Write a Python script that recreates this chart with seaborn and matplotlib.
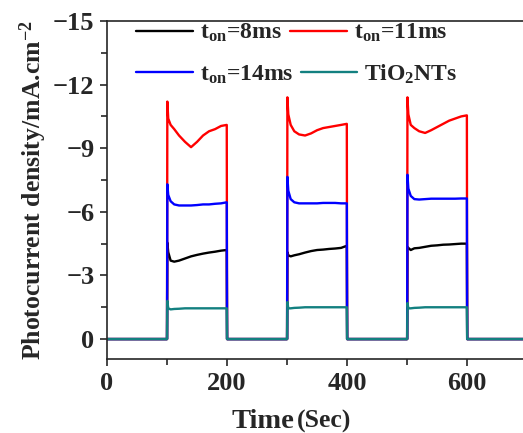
import numpy as np
import pandas as pd
import matplotlib
matplotlib.use("Agg")
import matplotlib.pyplot as plt
import seaborn as sns

# ---- data ----
time = [0, 100,
        100.5, 102, 106, 112, 120, 130, 140, 150, 160, 170, 180, 190, 199.5, 200,
        300,
        300.5, 302, 306, 312, 320, 330, 340, 350, 360, 370, 380, 390, 399.5, 400,
        500,
        500.5, 502, 506, 512, 520, 530, 540, 550, 560, 570, 580, 590, 599.5, 600,
        700]

ton8 = [0, 0,
        -4.55, -4.1, -3.7, -3.65, -3.7, -3.8, -3.9, -3.97, -4.03, -4.08, -4.12, -4.17, -4.2, 0,
        0,
        -4.1, -3.95, -3.9, -3.95, -4.0, -4.08, -4.15, -4.2, -4.22, -4.25, -4.27, -4.3, -4.4, 0,
        0,
        -4.35, -4.3, -4.2, -4.28, -4.3, -4.35, -4.4, -4.42, -4.45, -4.46, -4.48, -4.5, -4.5, 0,
        0]

ton11 = [0, 0,
         -11.2, -10.4, -10.1, -9.9, -9.6, -9.3, -9.05, -9.3, -9.6, -9.8, -9.9, -10.05, -10.1, 0,
         0,
         -11.4, -10.6, -10.1, -9.8, -9.65, -9.6, -9.7, -9.85, -9.95, -10.0, -10.05, -10.1, -10.15, 0,
         0,
         -11.4, -10.6, -10.1, -9.95, -9.8, -9.72, -9.85, -10.0, -10.15, -10.3, -10.4, -10.5, -10.55, 0,
         0]

ton14 = [0, 0,
         -7.3, -6.8, -6.5, -6.35, -6.3, -6.3, -6.3, -6.32, -6.35, -6.35, -6.38, -6.4, -6.45, 0,
         0,
         -7.65, -7.0, -6.6, -6.45, -6.4, -6.4, -6.4, -6.4, -6.42, -6.42, -6.42, -6.4, -6.4, 0,
         0,
         -7.75, -7.1, -6.75, -6.6, -6.58, -6.6, -6.62, -6.62, -6.62, -6.62, -6.62, -6.63, -6.63, 0,
         0]

tio2 = [0, 0,
        -1.8, -1.45, -1.4, -1.42, -1.43, -1.45, -1.45, -1.45, -1.45, -1.45, -1.45, -1.45, -1.45, 0,
        0,
        -1.75, -1.45, -1.45, -1.47, -1.48, -1.5, -1.5, -1.5, -1.5, -1.5, -1.5, -1.5, -1.5, 0,
        0,
        -1.7, -1.45, -1.45, -1.47, -1.48, -1.5, -1.5, -1.5, -1.5, -1.5, -1.5, -1.5, -1.5, 0,
        0]

labels = [r'$\mathbf{t}_{\mathbf{on}}$=8ms', r'$\mathbf{t}_{\mathbf{on}}$=11ms',
          r'$\mathbf{t}_{\mathbf{on}}$=14ms', r'TiO$_{\mathbf{2}}$NTs']
colors = ['#000000', '#ff0000', '#0000ff', '#138080']
xticks = [0, 200, 400, 600]
yticks = [-15, -12, -9, -6, -3, 0]

# ---- style ----
sns.set_style("ticks")
plt.rcParams['font.family'] = ['Liberation Serif', 'DejaVu Serif']
plt.rcParams['font.weight'] = 'bold'
plt.rcParams['mathtext.fontset'] = 'custom'
plt.rcParams['mathtext.rm'] = 'Liberation Serif:bold'
plt.rcParams['mathtext.bf'] = 'Liberation Serif:bold'
plt.rcParams['mathtext.it'] = 'Liberation Serif:bold'
plt.rcParams['axes.unicode_minus'] = True

fig = plt.figure(figsize=(5.23, 4.33), dpi=100)
ax = fig.add_axes([107/523, 1 - 359/433, 1 - 107/523, (359 - 21)/433])

series = [ton8, ton11, ton14, tio2]
handles = []
for vals, lab, col in zip(series, labels, colors):
    df = pd.DataFrame({'Time': time, 'J': vals})
    sns.lineplot(data=df, x='Time', y='J', color=col, lw=1.7, ax=ax,
                 estimator=None, sort=False, label=lab, legend=False)
    handles.append(ax.lines[-1])

ax.set_xlim(0, 693)
ax.set_ylim(0.94, -15)
ax.set_xticks(xticks)
ax.set_xticks([100, 300, 500], minor=True)
ax.set_yticks(yticks)
ax.set_yticks([-13.5, -10.5, -7.5, -4.5, -1.5], minor=True)
ax.set_xticklabels([str(v) for v in xticks])
ax.set_yticklabels([str(v).replace('-', '\u2212') for v in yticks])
ax.tick_params(axis='both', which='major', direction='out', length=5, width=1.2,
               labelsize=19, pad=4)
ax.tick_params(axis='both', which='minor', direction='out', length=4, width=1.2)
for lbl in ax.get_xticklabels() + ax.get_yticklabels():
    lbl.set_fontweight('bold')

for s in ['left', 'bottom', 'top']:
    ax.spines[s].set_linewidth(1.2)
ax.spines['right'].set_visible(False)

ax.set_xlabel('')
fig.text(232/523, 1 - 428/433, 'Time', fontsize=20.5, fontweight='bold',
         ha='left', va='baseline')
fig.text(297/523, 1 - 428/433, '(Sec)', fontsize=18.5, fontweight='bold',
         ha='left', va='baseline')
ax.set_ylabel(r'Photocurrent density/mA.cm$^{\mathbf{-2}}$', fontsize=18.5,
              fontweight='bold', labelpad=3)

leg1 = ax.legend(handles[:2], labels[:2], ncol=2, loc='upper left',
                 bbox_to_anchor=(0.048, 1.025), frameon=False,
                 handlelength=2.4, handletextpad=0.3, columnspacing=0.35,
                 borderaxespad=0, prop={'weight': 'bold', 'size': 17})
ax.add_artist(leg1)
leg2 = ax.legend(handles[2:], labels[2:], ncol=2, loc='upper left',
                 bbox_to_anchor=(0.048, 0.905), frameon=False,
                 handlelength=2.4, handletextpad=0.3, columnspacing=0.3,
                 borderaxespad=0, prop={'weight': 'bold', 'size': 17})

fig.savefig('out.png', dpi=100)
